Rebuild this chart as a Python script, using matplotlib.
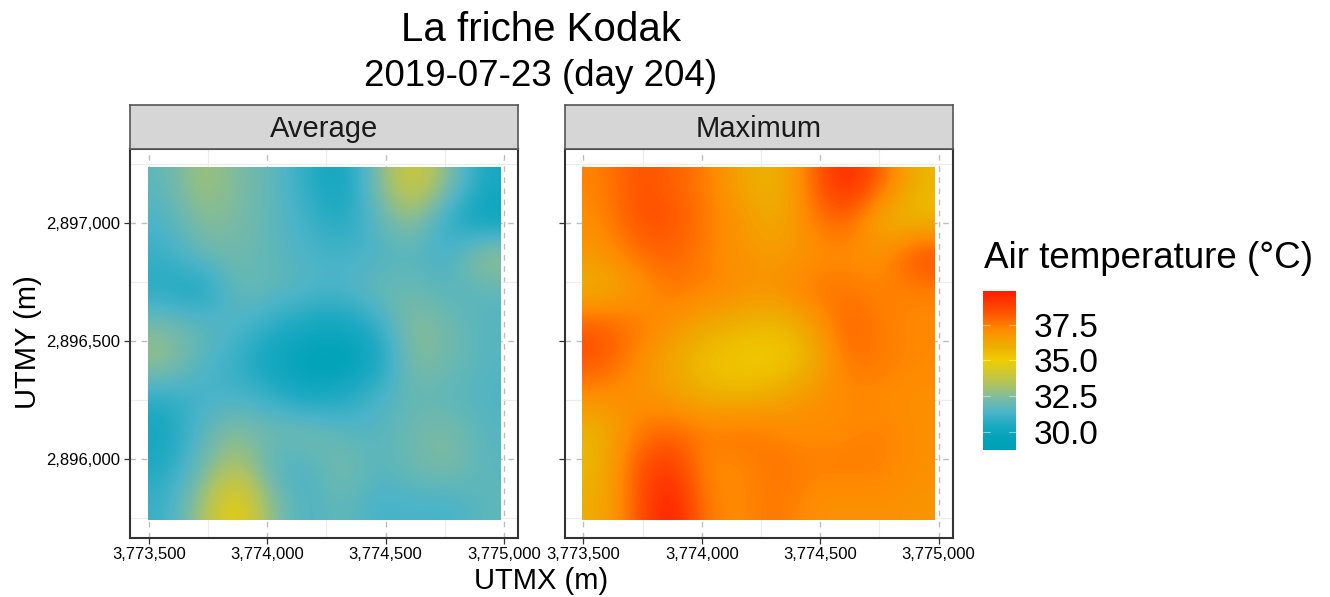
import numpy as np
import matplotlib
matplotlib.use('agg')
import matplotlib.pyplot as plt
from matplotlib.colors import LinearSegmentedColormap, Normalize
from matplotlib.cm import ScalarMappable
from matplotlib.ticker import FuncFormatter, MultipleLocator

plt.rcParams['font.family'] = ['Liberation Sans', 'DejaVu Sans']

x_ticks = [3773500, 3774000, 3774500, 3775000]
y_ticks = [2896000, 2896500, 2897000]
legend_ticks = [30.0, 32.5, 35.0, 37.5]

# temperature, top row first
average = [
    [31.8, 33.2, 32.4, 31.9, 30.8, 29.9, 32.4, 34.5, 32.6, 30.3],
    [31.4, 32.6, 32.4, 31.8, 31.2, 30.4, 31.7, 33.0, 30.6, 29.7],
    [31.0, 32.0, 32.2, 31.8, 31.4, 31.3, 31.4, 31.6, 31.2, 33.2],
    [30.6, 30.0, 32.0, 31.9, 31.6, 31.4, 32.1, 32.1, 31.6, 31.7],
    [32.4, 31.9, 31.5, 30.8, 30.2, 30.0, 30.8, 32.8, 32.2, 31.6],
    [33.0, 31.6, 31.0, 29.9, 29.4, 29.3, 30.0, 32.6, 32.2, 31.6],
    [30.8, 31.2, 31.3, 31.0, 30.1, 30.5, 31.4, 31.9, 31.7, 31.5],
    [30.1, 31.7, 32.7, 32.1, 32.5, 31.7, 31.6, 32.1, 32.5, 31.6],
    [30.5, 32.0, 33.7, 31.5, 31.3, 32.5, 31.6, 32.1, 32.5, 31.7],
    [31.0, 33.0, 35.4, 32.6, 31.3, 32.0, 31.2, 31.4, 31.2, 31.8],
]
maximum = [
    [37.3, 38.4, 38.1, 37.5, 36.3, 35.6, 37.8, 39.8, 38.0, 35.7],
    [37.1, 38.4, 38.4, 37.6, 36.8, 35.9, 37.4, 38.2, 35.7, 35.5],
    [36.7, 37.7, 38.1, 37.4, 36.8, 36.6, 36.9, 37.1, 36.9, 38.8],
    [35.8, 36.6, 37.6, 37.4, 37.0, 36.9, 37.7, 37.6, 37.3, 37.3],
    [38.3, 37.7, 36.9, 36.1, 35.8, 35.4, 36.3, 38.2, 37.4, 37.2],
    [38.4, 37.2, 36.2, 35.3, 35.0, 34.9, 35.7, 37.7, 37.5, 37.2],
    [37.0, 36.9, 36.6, 35.9, 35.8, 36.2, 36.9, 37.2, 37.1, 37.0],
    [35.7, 37.5, 38.0, 37.5, 37.8, 37.3, 37.1, 37.2, 37.4, 37.0],
    [35.7, 38.2, 39.3, 37.0, 37.2, 37.7, 37.4, 37.5, 37.4, 37.0],
    [36.0, 38.0, 40.2, 37.4, 37.1, 37.7, 37.0, 36.9, 37.0, 36.8],
]

W, H = 1330, 597
t_min, t_max = 28.75, 39.85
norm = Normalize(t_min, t_max)
stops = [(28.75, '#009fb4'), (29.6, '#02a3ba'), (30.5, '#1eaac2'), (31.4, '#4cb4c8'), (32.3, '#78baa6'),
         (33.3, '#aec363'), (35.0, '#efcd00'), (36.0, '#eeae00'), (37.2, '#ff8a00'), (38.3, '#ff5500'),
         (39.85, '#ff1c00')]
cmap = LinearSegmentedColormap.from_list('air', [(norm(v), c) for v, c in stops])


def px_axes(x0, y0, x1, y1):
    # pixel box from the top left corner
    return fig.add_axes([x0 / W, 1 - y1 / H, (x1 - x0) / W, (y1 - y0) / H])


def panel(x0, values, title, show_y):
    ax = px_axes(x0, 149, x0 + 388, 537.5)
    ax.imshow(values, cmap=cmap, norm=norm, interpolation='bicubic', aspect='auto',
              extent=[3773496, 3774987, 2895742, 2897236], zorder=3)
    ax.set_xlim(3773420, 3775059)
    ax.set_ylim(2895667, 2897312)
    ax.set_xticks(x_ticks)
    ax.set_yticks(y_ticks)
    ax.xaxis.set_minor_locator(MultipleLocator(250))
    ax.yaxis.set_minor_locator(MultipleLocator(250))
    ax.xaxis.set_major_formatter(FuncFormatter(lambda v, p: f'{int(v):,}'))
    ax.yaxis.set_major_formatter(FuncFormatter(lambda v, p: f'{int(v):,}'))
    ax.grid(which='major', color='#bdbdbd', lw=1.0, ls=(0, (4, 4)), zorder=1)
    ax.grid(which='minor', color='#ececec', lw=0.8, zorder=1)
    ax.set_axisbelow(True)
    ax.tick_params(which='major', length=4, width=0.9, color='#333333', labelsize=12, pad=3)
    ax.tick_params(which='minor', length=0)
    if not show_y:
        ax.tick_params(axis='y', labelleft=False)
    for s in ax.spines.values():
        s.set_color('#333333')
        s.set_linewidth(1.5)

    strip = px_axes(x0, 105, x0 + 388, 149)
    strip.set_facecolor('#d6d6d6')
    strip.set_xticks([])
    strip.set_yticks([])
    for s in strip.spines.values():
        s.set_color('#555555')
        s.set_linewidth(1.2)
    strip.text(0.5, 0.45, title, ha='center', va='center', fontsize=21,
               color='#1a1a1a', transform=strip.transAxes)
    return ax


fig = plt.figure(figsize=(W / 100, H / 100), dpi=100)

panel(130, average, 'Average', True)
panel(564.5, maximum, 'Maximum', False)

fig.text(541 / W, 1 - 30 / H, 'La friche Kodak', fontsize=29, ha='center', va='center')
fig.text(541 / W, 1 - 77 / H, '2019-07-23 (day 204)', fontsize=26.5, ha='center', va='center')
fig.text(541 / W, 1 - 581 / H, 'UTMX (m)', fontsize=21, ha='center', va='center')
fig.text(28 / W, 1 - 342 / H, 'UTMY (m)', fontsize=21, rotation=90, ha='center', va='center')
fig.text(984 / W, 1 - 258 / H, 'Air temperature (°C)', fontsize=26.5, ha='left', va='center')

cax = px_axes(983, 291, 1016, 450)
cb = fig.colorbar(ScalarMappable(norm=norm, cmap=cmap), cax=cax)
cb.outline.set_visible(False)
cb.set_ticks(legend_ticks)
cb.set_ticklabels([f'{v:.1f}' for v in legend_ticks])
cax.tick_params(axis='y', length=0, pad=13, labelsize=24)
for v in legend_ticks:
    cax.plot([0, 0.2], [v, v], color='white', lw=0.5, alpha=0.7, transform=cax.get_yaxis_transform())
    cax.plot([0.8, 1], [v, v], color='white', lw=0.5, alpha=0.7, transform=cax.get_yaxis_transform())

fig.savefig('out.png', dpi=100)
plt.close(fig)
